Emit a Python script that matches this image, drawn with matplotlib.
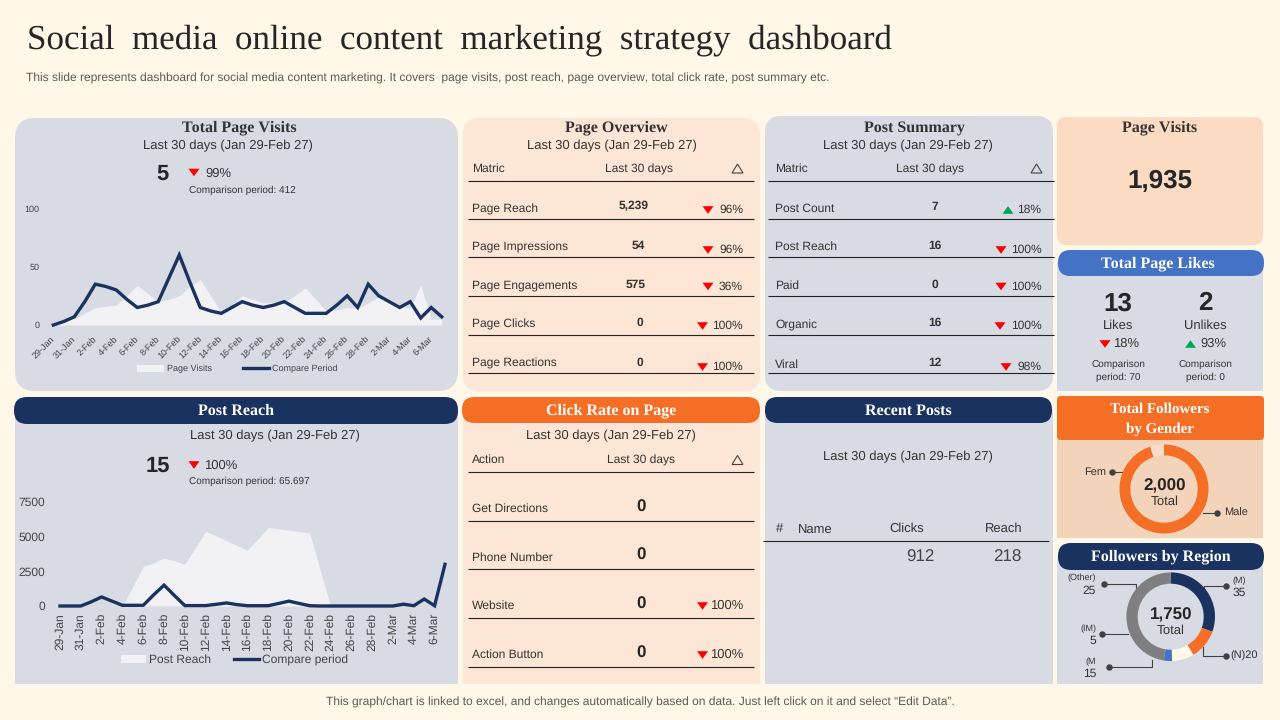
"""
Social media content marketing dashboard, rebuilt as one matplotlib figure.
"""

import matplotlib
matplotlib.use("Agg")
import matplotlib.pyplot as plt
from matplotlib.patches import FancyBboxPatch, Rectangle, Patch, Polygon
from matplotlib.lines import Line2D

plt.rcParams["font.family"] = ["Liberation Sans", "DejaVu Sans"]
plt.rcParams["text.hinting"] = "none"
plt.rcParams["text.hinting_factor"] = 1

# ============================================================
# COLORS
# ============================================================

BG = "#FFF8E9"
GREY = "#D8DBE3"
PEACH = "#FDE6D5"
PEACH_DARK = "#FBDCC3"
TAN = "#F3D3BA"
NAVY = "#1A3260"
ORANGE = "#F56E25"
BLUE = "#4472C4"
AREA = "#F2F2F4"
TEXT = "#333333"
RED = "#FF0000"
GREEN = "#00A651"

# ============================================================
# DATA
# ============================================================

day_labels = (
    ["29-Jan", "30-Jan", "31-Jan"]
    + [f"{d}-Feb" for d in range(1, 29)]
    + [f"{d}-Mar" for d in range(1, 8)]
)

page_visits = [0, 3, 6, 10, 15, 16, 17, 25, 34, 27, 20, 22, 25, 33, 39, 25, 11, 17, 25,
               22, 19, 19, 19, 25, 32, 22, 12, 13, 15, 14, 19, 24, 20, 15, 15, 34, 5, 5]
visits_compare = [0, 3, 7, 20, 35, 33, 30, 22, 15, 17, 20, 40, 60, 37, 15, 12, 10, 15, 20,
                  17, 15, 17, 20, 15, 10, 10, 10, 17, 25, 15, 35, 25, 20, 15, 20, 6, 15, 7]

post_reach = [0, 0, 0, 0, 0, 0, 0, 1400, 2850, 3100, 3450, 3250, 3000, 4200, 5350, 5050, 4700,
              4350, 4000, 4800, 5650, 5550, 5450, 5350, 5250, 2600, 0, 0, 0, 0, 0, 0, 0, 0, 0, 0, 0, 0]
reach_compare = [0, 0, 0, 300, 650, 350, 50, 50, 50, 800, 1500, 750, 30, 30, 30, 120, 220, 100,
                 20, 20, 20, 180, 350, 180, 20, 0, 0, 0, 0, 0, 0, 0, 0, 130, 20, 500, 20, 3000]

overview_rows = ["Page Reach", "Page Impressions", "Page Engagements", "Page Clicks", "Page Reactions"]
overview_vals = ["5,239", "54", "575", "0", "0"]
overview_pct = ["96%", "96%", "36%", "100%", "100%"]

summary_rows = ["Post Count", "Post Reach", "Paid", "Organic", "Viral"]
summary_vals = ["7", "16", "0", "16", "12"]
summary_pct = ["18%", "100%", "100%", "100%", "98%"]
summary_up = [True, False, False, False, False]

click_rows = ["Get Directions", "Phone Number", "Website", "Action Button"]
click_vals = ["0", "0", "0", "0"]
click_pct = ["", "", "100%", "100%"]

gender_share = [95, 5]
gender_colors = [ORANGE, "#FBDCCB"]

region_share = [30.5, 11, 8, 3, 47.5]
region_colors = [NAVY, ORANGE, BG, BLUE, "#7F7F7F"]

PERIOD = "Last 30 days (Jan 29-Feb 27)"

# ============================================================
# CANVAS
# ============================================================

fig = plt.figure(figsize=(12.8, 7.2), dpi=100, facecolor=BG)

canvas = fig.add_axes([0, 0, 1, 1])
canvas.set_xlim(0, 1280)
canvas.set_ylim(720, 0)
canvas.axis("off")


def txt(x, y, s, size=9, color=TEXT, ha="center", weight="normal", serif=False):
    family = ["Liberation Serif", "DejaVu Serif"] if serif else ["Liberation Sans", "DejaVu Sans"]
    canvas.text(x, y + 1, s, fontsize=size, color=color, ha=ha, va="center",
                fontweight=weight, family=family)


def rounded(x0, y0, x1, y1, color, r=14):
    canvas.add_patch(FancyBboxPatch((x0 + r, y0 + r), x1 - x0 - 2 * r, y1 - y0 - 2 * r,
                                    boxstyle=f"round,pad={r},rounding_size={r}",
                                    facecolor=color, edgecolor="none"))


def square(x0, y0, x1, y1, color):
    canvas.add_patch(Rectangle((x0, y0), x1 - x0, y1 - y0, facecolor=color, edgecolor="none"))


def header(x0, y0, x1, y1, color, label, size=11.4, shift=0):
    rounded(x0, y0, x1, y1, color, r=(y1 - y0) / 2 - 0.5)
    txt((x0 + x1) / 2 + shift, (y0 + y1) / 2 - 0.5, label, size=size, color="white",
        weight="bold", serif=True)


def hline(x0, x1, y, lw=0.8):
    canvas.plot([x0, x1], [y, y], color="#222222", lw=lw, solid_capstyle="butt")


def arrow(x, y, up=False):
    # flat little trend triangle, wider than it is tall
    w, h = 5.5, 3.8
    tip = -h if up else h
    canvas.add_patch(Polygon([(x - w, y - tip), (x + w, y - tip), (x, y + tip)], closed=True,
                             facecolor=GREEN if up else RED, edgecolor="none"))


def delta(x, y):
    canvas.add_patch(Polygon([(x - 5.5, y + 4.5), (x + 5.5, y + 4.5), (x, y - 4.5)], closed=True,
                             facecolor="none", edgecolor="#444444", lw=0.8))


def inset(x0, y0, x1, y1):
    ax = fig.add_axes([x0 / 1280, 1 - y1 / 720, (x1 - x0) / 1280, (y1 - y0) / 720])
    ax.patch.set_alpha(0)
    return ax


# ============================================================
# TITLE BLOCK
# ============================================================

canvas.text(27, 40, "Social  media  online  content  marketing  strategy  dashboard",
            fontsize=24.85, color="#262626", ha="left", va="center",
            family=["Liberation Serif", "DejaVu Serif"])
txt(26, 77, "This slide represents dashboard for social media content marketing. It covers  page visits, "
    "post reach, page overview, total click rate, post summary etc.",
    size=8.6, color="#5A5A5A", ha="left")
txt(640, 701.5, "This graph/chart is linked to excel, and changes automatically based on data. "
    "Just left click on it and select \u201cEdit Data\u201d.", size=8.6, color="#5A5A5A")

# ============================================================
# PANELS
# ============================================================

rounded(15, 118, 458, 391, GREY, r=20)
rounded(463, 118, 760, 391, PEACH, r=16)
rounded(765, 116, 1053, 391, GREY, r=16)
rounded(1057, 117, 1263, 245, PEACH_DARK, r=9)

square(1057, 262, 1263, 391, GREY)
header(1058, 250, 1264, 276, BLUE, "Total Page Likes", shift=-3.5)

square(15, 410, 458, 684, GREY)
header(14, 397, 458, 424, NAVY, "Post Reach")

square(463, 410, 760, 684, PEACH)
header(462, 397, 760, 423, ORANGE, "Click Rate on Page")

square(765, 410, 1053, 684, GREY)
header(765, 397, 1052, 423, NAVY, "Recent Posts")

square(1057, 436, 1263, 538, TAN)
rounded(1057, 396, 1264, 440, ORANGE, r=4)
txt(1160, 408, "Total Followers", size=11, color="white", weight="bold", serif=True)
txt(1160, 428.5, "by Gender", size=11, color="white", weight="bold", serif=True)

square(1057, 556, 1263, 684, GREY)
header(1058, 543, 1264, 570, NAVY, "Followers by Region", size=11.5)

# ============================================================
# TOTAL PAGE VISITS
# ============================================================

txt(239, 127, "Total Page Visits", size=11.4, weight="bold", serif=True)
txt(228, 144.5, PERIOD, size=9.4)
txt(162.7, 173.5, "5", size=15.5, weight="bold", color="#262626")
arrow(194, 172.5)
txt(205, 172.5, "99%", size=9, ha="left")
txt(189, 189.5, "Comparison period: 412", size=7.4, ha="left")

ax1 = inset(53.3, 208.3, 441.7, 325)
days = list(range(len(day_labels)))
ax1.fill_between(days, page_visits, 0, color=AREA, lw=0)
ax1.plot(days, visits_compare, color=NAVY, lw=2.4, solid_joinstyle="miter", clip_on=False)
ax1.set_xlim(0, 37)
ax1.set_ylim(0, 100)
ax1.set_yticks([0, 50, 100])
ax1.set_xticks(days[::2])
ax1.set_xticklabels(day_labels[::2], rotation=45, ha="right", va="center", rotation_mode="anchor",
                    fontsize=6.6, color="#444444")
ax1.tick_params(axis="x", length=0, pad=9)
ax1.tick_params(axis="y", length=0, pad=10, labelsize=6.5, labelcolor="#444444")
for s in ax1.spines.values():
    s.set_visible(False)
ax1.legend(handles=[Patch(color=AREA, lw=0, label="Page Visits"),
                    Line2D([], [], color=NAVY, lw=2.4, label="Compare Period")],
           loc="center", bbox_to_anchor=(237.5 / 1280, 1 - 369 / 720), bbox_transform=fig.transFigure,
           ncol=2, frameon=False, fontsize=6.8, handlelength=2.8, handleheight=0.8, handletextpad=0.3,
           columnspacing=3.3, labelcolor="#444444")

# ============================================================
# POST REACH
# ============================================================

txt(275, 435, PERIOD, size=9.4)
txt(158, 465.5, "15", size=15.5, weight="bold", color="#262626")
arrow(194, 465)
txt(204, 465, "100%", size=9, ha="left")
txt(189, 480, "Comparison period: 65.697", size=7.4, ha="left")

ax2 = inset(60, 501.7, 445, 606)
ax2.fill_between(days, post_reach, 0, color=AREA, lw=0)
ax2.plot(days, reach_compare, color=NAVY, lw=2.4, solid_joinstyle="miter", clip_on=False)
ax2.set_xlim(0, 37)
ax2.set_ylim(0, 7500)
ax2.set_yticks([0, 2500, 5000, 7500])
ax2.set_xticks(days[::2])
ax2.set_xticklabels(day_labels[::2], rotation=90, fontsize=8.6, color="#444444")
ax2.tick_params(axis="x", length=0, pad=5)
ax2.tick_params(axis="y", length=0, pad=11, labelsize=8.9, labelcolor="#444444")
for s in ax2.spines.values():
    s.set_visible(False)
ax2.legend(handles=[Patch(color=AREA, lw=0, label="Post Reach"),
                    Line2D([], [], color=NAVY, lw=2.4, label="Compare period")],
           loc="center", bbox_to_anchor=(234.5 / 1280, 1 - 660 / 720), bbox_transform=fig.transFigure,
           ncol=2, frameon=False, fontsize=8.7, handlelength=2.1, handleheight=0.7, handletextpad=0.25,
           columnspacing=1.9, labelcolor="#444444")

# ============================================================
# PAGE OVERVIEW
# ============================================================

txt(616, 127, "Page Overview", size=11.4, weight="bold", serif=True)
txt(612, 144.5, PERIOD, size=9.4)
txt(472, 168, "Matric", size=8.4, ha="left")
txt(639, 168, "Last 30 days", size=8.4)
delta(737.5, 168.5)
hline(468, 754, 180.5)

row_lines = [218.5, 257, 296, 335, 373]
label_y = [208, 246, 284.5, 323, 362.5]
value_y = [205.5, 244.5, 283.5, 321.5, 361.5]
pct_y = [209, 249, 285.5, 325, 366]
overview_x = [633.5, 638, 635.7, 640, 640]

for i, name in enumerate(overview_rows):
    txt(472, label_y[i], name, size=8.9, ha="left")
    txt(overview_x[i], value_y[i], overview_vals[i], size=8.9, weight="bold")
    txt(743, pct_y[i], overview_pct[i], size=8.9, ha="right")
    arrow(702.5 if overview_pct[i] == "100%" else 708, pct_y[i] + 1)
    hline(468, 754, row_lines[i])

# ============================================================
# POST SUMMARY
# ============================================================

txt(914, 128, "Post Summary", size=11.4, weight="bold", serif=True)
txt(908, 144.5, PERIOD, size=9.4)
txt(775, 168, "Matric", size=8.4, ha="left")
txt(930, 168, "Last 30 days", size=8.4)
delta(1036.5, 168.5)
hline(768, 1054, 180.5)

summary_arrow_x = [1008, 1001, 1001, 1000, 1006]
for i, name in enumerate(summary_rows):
    txt(775, label_y[i] + (1.5 if i >= 3 else 0), name, size=8.9, ha="left")
    txt(935, value_y[i], summary_vals[i], size=8.9, weight="bold")
    txt(1041.5, pct_y[i], summary_pct[i], size=8.9, ha="right")
    arrow(summary_arrow_x[i], pct_y[i] + 1, up=summary_up[i])
    hline(768, 1054, row_lines[i])

# ============================================================
# CLICK RATE ON PAGE
# ============================================================

txt(611, 435, PERIOD, size=9.4)
txt(472, 459, "Action", size=8.4, ha="left")
txt(641, 459, "Last 30 days", size=8.4)
delta(737.5, 460)
hline(468, 754, 471.5)

click_lines = [520.5, 569, 617.5, 666.5]
click_label_y = [508, 557, 605, 654]
click_val_y = [506.5, 554.5, 603.5, 652.5]
for i, name in enumerate(click_rows):
    txt(472, click_label_y[i], name, size=8.9, ha="left")
    txt(641, click_val_y[i], click_vals[i], size=12, weight="bold", color="#262626")
    if click_pct[i]:
        txt(743, click_label_y[i], click_pct[i], size=9.2, ha="right")
        arrow(702.5, click_label_y[i] + 1)
    hline(468, 754, click_lines[i])

# ============================================================
# RECENT POSTS
# ============================================================

txt(908, 456, PERIOD, size=9.4)
txt(779.5, 528, "#", size=9.2)
txt(798, 529.5, "Name", size=9.2, ha="left")
txt(907, 528, "Clicks", size=9.2)
txt(1004, 528, "Reach", size=9.2)
hline(763, 1049, 540.5)
txt(920.5, 556, "912", size=12, color="#444444")
txt(1007.5, 556, "218", size=12, color="#444444")

# ============================================================
# PAGE VISITS / PAGE LIKES
# ============================================================

txt(1160, 127, "Page Visits", size=11.4, weight="bold", serif=True)
txt(1160, 180, "1,935", size=19, weight="bold", color="#262626")

txt(1118, 302.5, "13", size=18.5, weight="bold", color="#262626")
txt(1205, 302.5, "2", size=18.5, weight="bold", color="#262626")
txt(1118, 324.5, "Likes", size=9.5)
txt(1205, 324.5, "Unlikes", size=9.5)
arrow(1105, 344)
txt(1113, 343, "18%", size=9.5, ha="left")
arrow(1190.5, 344, up=True)
txt(1200, 343, "93%", size=9.5, ha="left")
txt(1118, 363, "Comparison", size=7.4)
txt(1118, 376, "period: 70", size=7.4)
txt(1205, 363, "Comparison", size=7.4)
txt(1205, 376, "period: 0", size=7.4)

# ============================================================
# DONUTS
# ============================================================


def donut(cx, cy, radius, hole, share, colors):
    ax = inset(cx - radius, cy - radius, cx + radius, cy + radius)
    ax.pie(share, colors=colors, startangle=90, counterclock=False, radius=1,
           wedgeprops={"width": 1 - hole / radius, "linewidth": 0})
    ax.set_xlim(-1, 1)
    ax.set_ylim(-1, 1)


def leader(points):
    xs = [p[0] for p in points]
    ys = [p[1] for p in points]
    canvas.plot(xs, ys, color="#404040", lw=0.8)
    canvas.plot(xs[:1], ys[:1], marker="o", ms=3.6, color="#404040", ls="none")


donut(1164, 489, 44.5, 33.7, gender_share, gender_colors)
txt(1164.5, 485, "2,000", size=12, weight="bold", color="#262626")
txt(1164.5, 501, "Total", size=9.4)
txt(1095.5, 471.5, "Fem", size=7.6)
leader([(1112.3, 472.3), (1123.5, 472.3)])
txt(1236, 512, "Male", size=7.6)
leader([(1216.7, 513.3), (1202.5, 513.3)])

donut(1170.7, 616.7, 44.3, 33, region_share, region_colors)
txt(1171, 614, "1,750", size=12, weight="bold", color="#262626")
txt(1171, 630, "Total", size=9.4)

leader([(1104.3, 584.3), (1135.7, 584.3), (1135.7, 599)])
leader([(1226.3, 585.7), (1204, 585.7), (1204, 600)])
leader([(1225.7, 655.7), (1203.3, 655.7), (1203.3, 646.5)])
leader([(1102.3, 634.3), (1128.3, 634.3)])
leader([(1109.3, 667.3), (1151.7, 667.3), (1151.7, 660)])

txt(1096, 577, "(Other)", size=6.8, ha="right")
txt(1096, 589.5, "25", size=8.4, ha="right")
txt(1239, 579.5, "(M)", size=6.8)
txt(1239, 592, "35", size=8.4)
txt(1230, 654.5, "(N)20", size=8.2, ha="left")
txt(1096, 627.5, "(IM)", size=6.8, ha="right")
txt(1096, 640, "5", size=8.4, ha="right")
txt(1096, 660.5, "(M", size=6.8, ha="right")
txt(1096, 672.5, "15", size=8.4, ha="right")

fig.savefig("out.png", dpi=100, facecolor=BG)
